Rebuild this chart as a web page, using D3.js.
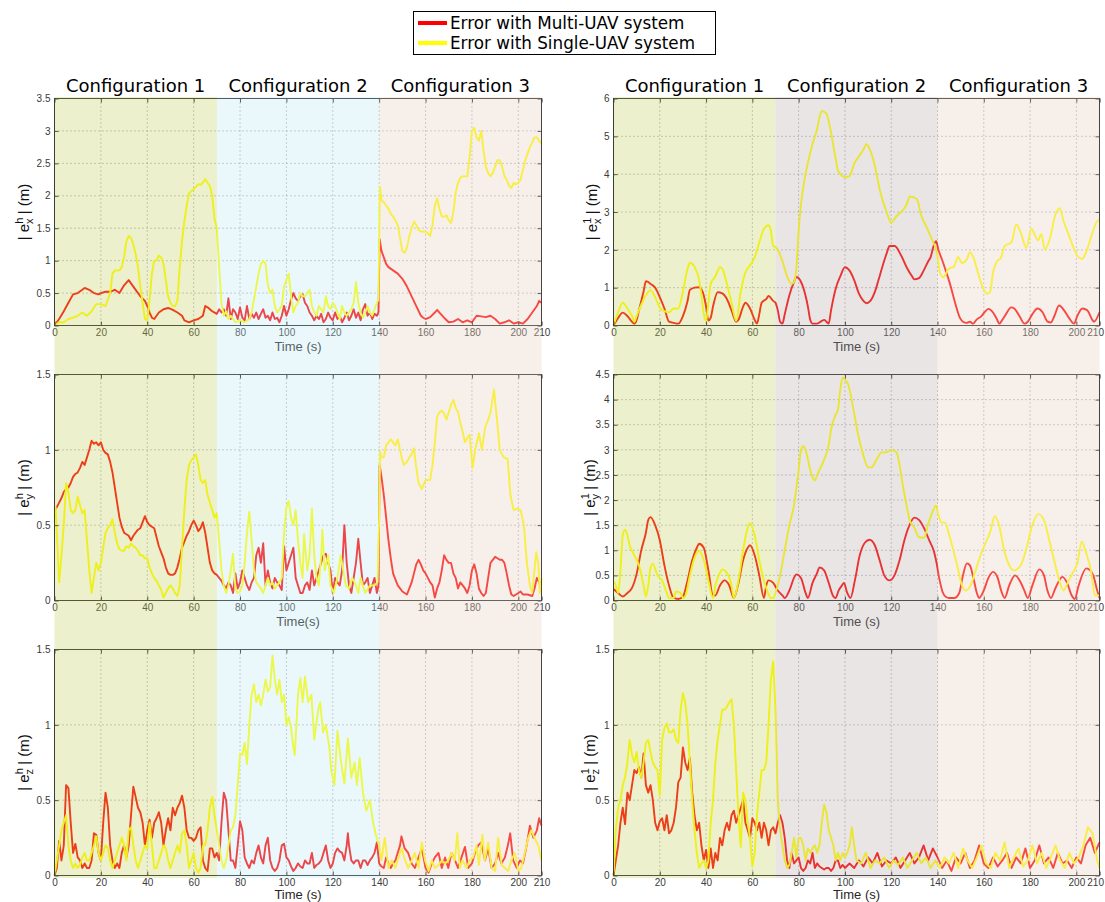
<!DOCTYPE html>
<html><head><meta charset="utf-8">
<script src="https://cdn.jsdelivr.net/npm/d3@7"></script>
<style>body{margin:0;background:#fff} svg{display:block}</style>
</head><body>
<svg id="c" width="1105" height="902"></svg>
<script>
// ---------- DATA ----------
const timeTicks=[0,20,40,60,80,100,120,140,160,180,200,210];
const configNames=["Configuration 1","Configuration 2","Configuration 3"];
const configBounds=[0,70,140,210];
const legendLabels=["Error with Multi-UAV system","Error with Single-UAV system"];

const hxMulti=[[0,0],[2,0.1],[4,0.22],[6,0.35],[8,0.48],[10,0.5],[12,0.55],[13,0.58],[15,0.55],[17,0.5],[19,0.48],[20,0.5],[22,0.52],[24,0.52],[26,0.55],[28,0.5],[30,0.62],[32,0.7],[33,0.65],[35,0.55],[37,0.45],[39,0.38],[40,0.3],[41,0.2],[42,0.12],[43,0.1],[45,0.2],[47,0.25],[49,0.27],[51,0.24],[53,0.2],[55,0.15],[56,0.08],[58,0.05],[60,0.08],[62,0.1],[64,0.15],[65,0.3],[66,0.28],[68,0.22],[70,0.18],[71,0.25],[72,0.2],[73,0.25],[74,0.15],[75,0.42],[76,0.1],[77,0.25],[78,0.2],[79,0.1],[80,0.28],[81,0.12],[82,0.08],[83,0.3],[84,0.1],[85,0.18],[86,0.12],[87,0.2],[88,0.1],[89,0.18],[90,0.25],[91,0.12],[92,0.15],[93,0.08],[94,0.2],[95,0.1],[96,0.12],[97,0.05],[98,0.15],[99,0.3],[100,0.15],[101,0.25],[102,0.4],[103,0.5],[104,0.42],[105,0.38],[106,0.45],[107,0.48],[108,0.35],[109,0.3],[110,0.2],[111,0.15],[112,0.08],[113,0.15],[114,0.1],[115,0.18],[116,0.05],[117,0.1],[118,0.2],[119,0.12],[120,0.08],[121,0.2],[122,0.1],[123,0.15],[124,0.05],[125,0.12],[126,0.2],[127,0.08],[128,0.15],[129,0.25],[130,0.12],[131,0.2],[132,0.08],[133,0.25],[134,0.33],[135,0.15],[136,0.2],[137,0.1],[138,0.18],[139,0.15],[139.7,0.2],[140.2,1.33],[141,1.15],[142,1.05],[143,0.95],[144,0.9],[146,0.85],[148,0.8],[150,0.72],[152,0.6],[154,0.45],[156,0.3],[158,0.15],[159,0.12],[160,0.1],[162,0.13],[164,0.2],[165,0.24],[166,0.2],[168,0.12],[170,0.05],[172,0.06],[174,0.1],[176,0.05],[178,0.08],[180,0.05],[182,0.15],[184,0.14],[186,0.13],[188,0.15],[190,0.1],[192,0.03],[194,0.05],[196,0.08],[198,0.03],[200,0.05],[202,0.03],[204,0.1],[206,0.2],[208,0.3],[209,0.38],[210,0.35]];
const hxSingle=[[0,0],[2,0.05],[4,0.05],[6,0.1],[8,0.12],[10,0.15],[12,0.2],[14,0.15],[16,0.22],[18,0.33],[20,0.33],[22,0.3],[24,0.5],[25,0.8],[26,0.85],[28,0.85],[29,0.9],[30,1.05],[31,1.3],[32,1.38],[33,1.35],[34,1.25],[35,1.1],[36,0.9],[37,0.6],[38,0.35],[39,0.1],[40,0.08],[41,0.4],[42,0.8],[43,1.0],[44,1.0],[45,1.08],[46,1.05],[47,0.95],[48,0.7],[49,0.45],[50,0.35],[51,0.3],[52,0.3],[53,0.38],[54,0.9],[55,1.3],[56,1.6],[57,1.85],[58,2.04],[60,2.1],[62,2.18],[63,2.17],[64,2.2],[65,2.26],[66,2.2],[67,2.15],[68,2.0],[69,1.65],[70,1.5],[71,0.9],[72,0.35],[73,0.15],[74,0.22],[75,0.1],[76,0.15],[77,0.1],[78,0.05],[80,0.08],[82,0.05],[84,0.1],[85,0.2],[86,0.4],[87,0.6],[88,0.8],[89,0.95],[90,1.0],[91,0.95],[92,0.62],[93,0.5],[94,0.55],[95,0.3],[96,0.2],[97,0.25],[98,0.3],[99,0.6],[100,0.7],[101,0.8],[102,0.45],[103,0.2],[104,0.3],[105,0.35],[106,0.5],[107,0.45],[108,0.45],[109,0.5],[110,0.55],[111,0.3],[112,0.2],[113,0.15],[114,0.3],[115,0.25],[116,0.2],[117,0.45],[118,0.3],[119,0.25],[120,0.35],[121,0.3],[122,0.2],[123,0.1],[124,0.3],[125,0.2],[126,0.15],[127,0.2],[128,0.25],[129,0.35],[130,0.67],[131,0.35],[132,0.2],[133,0.12],[134,0.2],[135,0.3],[136,0.2],[137,0.15],[138,0.25],[139,0.35],[139.7,0.4],[140.3,2.14],[141,1.93],[142,1.9],[143,1.85],[144,1.8],[145,1.72],[146,1.68],[147,1.62],[148,1.55],[149,1.35],[150,1.15],[151,1.12],[152,1.2],[153,1.38],[154,1.5],[155,1.6],[156,1.55],[157,1.47],[158,1.45],[160,1.45],[161,1.42],[162,1.38],[163,1.55],[164,1.85],[165,1.96],[166,1.8],[167,1.68],[168,1.68],[169,1.7],[170,1.62],[171,1.58],[172,1.75],[173,2.05],[174,2.2],[175,2.28],[176,2.3],[178,2.3],[179,2.6],[180,3.0],[181,3.05],[182,2.9],[183,2.85],[184,3.0],[185,2.7],[186,2.45],[187,2.35],[188,2.3],[189,2.35],[190,2.45],[191,2.55],[192,2.55],[193,2.45],[194,2.3],[195,2.25],[196,2.15],[197,2.12],[198,2.2],[199,2.18],[200,2.2],[201,2.25],[202,2.4],[203,2.55],[204,2.65],[205,2.75],[206,2.82],[207,2.9],[208,2.9],[209,2.85],[210,2.8]];

const hyMulti=[[0,0.6],[1,0.62],[2,0.65],[3,0.68],[4,0.72],[5,0.74],[6,0.75],[7,0.78],[8,0.82],[9,0.84],[10,0.85],[11,0.88],[12,0.92],[13,0.9],[14,0.95],[15,1.0],[16,1.06],[17,1.04],[18,1.05],[19,1.03],[20,1.05],[21,1.0],[22,0.98],[23,0.97],[24,0.92],[25,0.85],[26,0.75],[27,0.65],[28,0.55],[29,0.49],[30,0.45],[31,0.44],[32,0.43],[33,0.4],[34,0.43],[35,0.45],[36,0.47],[37,0.48],[38,0.52],[39,0.56],[40,0.52],[41,0.5],[42,0.49],[43,0.48],[44,0.42],[45,0.36],[46,0.32],[47,0.28],[48,0.22],[49,0.18],[50,0.17],[51,0.17],[52,0.18],[53,0.22],[54,0.28],[55,0.35],[56,0.39],[57,0.43],[58,0.46],[59,0.5],[60,0.53],[61,0.5],[62,0.46],[63,0.48],[64,0.52],[65,0.45],[66,0.35],[67,0.25],[68,0.2],[69,0.18],[70,0.17],[71,0.15],[72,0.13],[73,0.1],[74,0.08],[75,0.12],[76,0.1],[77,0.05],[78,0.18],[79,0.08],[80,0.12],[81,0.2],[82,0.15],[83,0.1],[84,0.07],[85,0.12],[86,0.15],[87,0.3],[88,0.35],[89,0.25],[90,0.38],[91,0.1],[92,0.2],[93,0.12],[94,0.08],[95,0.15],[96,0.12],[97,0.1],[98,0.07],[99,0.36],[100,0.2],[101,0.25],[102,0.3],[103,0.35],[104,0.15],[105,0.1],[106,0.05],[107,0.05],[108,0.1],[109,0.12],[110,0.07],[111,0.2],[112,0.1],[113,0.15],[114,0.2],[115,0.25],[116,0.3],[117,0.31],[118,0.25],[119,0.2],[120,0.05],[121,0.15],[122,0.12],[123,0.1],[124,0.2],[125,0.5],[126,0.25],[127,0.1],[128,0.05],[129,0.15],[130,0.25],[131,0.41],[132,0.25],[133,0.1],[134,0.12],[135,0.15],[136,0.05],[137,0.1],[138,0.15],[139,0.05],[139.7,0.1],[140.2,0.9],[141,0.82],[142,0.7],[143,0.55],[144,0.4],[145,0.28],[146,0.18],[147,0.14],[148,0.1],[149,0.08],[150,0.06],[151,0.05],[152,0.04],[153,0.08],[154,0.12],[155,0.18],[156,0.24],[157,0.27],[158,0.24],[159,0.2],[160,0.18],[161,0.15],[162,0.12],[163,0.1],[164,0.02],[165,0.08],[166,0.12],[167,0.2],[168,0.3],[169,0.27],[170,0.25],[171,0.25],[172,0.18],[173,0.15],[174,0.08],[175,0.12],[176,0.1],[177,0.08],[178,0.05],[179,0.1],[180,0.2],[181,0.24],[182,0.18],[183,0.08],[184,0.05],[185,0.03],[186,0.05],[187,0.15],[188,0.25],[189,0.27],[190,0.29],[191,0.28],[192,0.27],[193,0.27],[194,0.25],[195,0.18],[196,0.1],[197,0.04],[198,0.03],[200,0.05],[201,0.06],[202,0.04],[204,0.04],[206,0.03],[207,0.08],[208,0.15],[209,0.12],[210,0.1]];
const hySingle=[[0,0.55],[0.5,0.62],[1,0.45],[2,0.12],[3,0.3],[4,0.5],[5,0.78],[6,0.72],[7,0.6],[8,0.58],[9,0.6],[10,0.69],[11,0.63],[12,0.58],[13,0.6],[14,0.4],[15,0.2],[16,0.05],[17,0.15],[18,0.25],[19,0.2],[20,0.25],[21,0.35],[22,0.45],[23,0.48],[24,0.5],[25,0.54],[26,0.45],[27,0.38],[28,0.34],[29,0.33],[30,0.33],[31,0.36],[32,0.35],[33,0.38],[34,0.36],[35,0.35],[36,0.33],[37,0.3],[38,0.3],[39,0.28],[40,0.28],[41,0.22],[42,0.18],[43,0.15],[44,0.13],[45,0.1],[46,0.07],[47,0.02],[48,0.05],[49,0.08],[50,0.1],[51,0.08],[52,0.05],[53,0.03],[54,0.1],[55,0.35],[56,0.6],[57,0.8],[58,0.9],[59,0.93],[60,0.95],[61,0.97],[62,0.9],[63,0.8],[64,0.78],[65,0.8],[66,0.7],[67,0.65],[68,0.6],[69,0.55],[70,0.58],[71,0.4],[72,0.2],[73,0.1],[74,0.05],[75,0.1],[76,0.2],[77,0.31],[78,0.08],[79,0.05],[80,0.06],[81,0.1],[82,0.25],[83,0.45],[84,0.59],[85,0.4],[86,0.2],[87,0.12],[88,0.1],[89,0.08],[90,0.05],[91,0.1],[92,0.15],[93,0.1],[94,0.12],[95,0.08],[96,0.1],[97,0.12],[98,0.15],[99,0.45],[100,0.62],[101,0.66],[102,0.55],[103,0.5],[104,0.6],[105,0.4],[106,0.25],[107,0.15],[107.6,0.44],[109,0.2],[110,0.3],[111,0.61],[112,0.3],[113,0.15],[114,0.1],[115,0.3],[115.5,0.47],[116.5,0.2],[118,0.3],[119,0.1],[120.4,0.05],[122,0.15],[123.4,0.3],[124.5,0.2],[125.6,0.1],[127,0.08],[128.4,0.15],[130,0.1],[131,0.05],[132,0.15],[134,0.05],[136,0.1],[138,0.1],[139.3,0.12],[140,0.55],[140.4,0.99],[141,0.95],[142,0.95],[143,1.03],[144,1.05],[145,1.07],[146,1.05],[147,1.03],[148,1.07],[149,1.0],[150,0.93],[150.7,0.9],[152,0.92],[153,0.95],[154,0.97],[155,1.01],[156,0.88],[157,0.78],[158.4,0.74],[160,0.8],[161,0.8],[162,0.8],[163,0.9],[164,1.05],[165,1.22],[166,1.25],[167,1.26],[168,1.24],[169,1.2],[170,1.25],[171,1.3],[172,1.33],[173,1.28],[174,1.25],[175,1.18],[176,1.12],[177,1.05],[178,1.08],[179,1.1],[180.3,0.88],[181.4,1.0],[183,1.11],[184.3,1.0],[185.7,1.15],[187,1.2],[188,1.25],[189.5,1.4],[190.8,1.2],[192,1.0],[193.7,0.95],[195.4,0.94],[196.6,0.7],[198,0.6],[199.5,0.61],[201,0.6],[202.4,0.5],[203.7,0.25],[205,0.1],[206,0.05],[207.7,0.32],[208.6,0.25],[209.3,0.05],[210,0.15]];

const hzMulti=[[0,0],[1,0.05],[2,0.23],[3,0.1],[4,0.2],[5,0.6],[6,0.58],[7,0.35],[8,0.15],[9,0.21],[10,0.12],[11,0.1],[12,0.05],[13,0.08],[14,0.05],[15,0.05],[16,0.1],[17,0.28],[18,0.27],[19,0.15],[20,0.1],[21,0.35],[22,0.55],[23,0.45],[24,0.2],[25,0.1],[26,0.05],[27,0.08],[28,0.05],[29,0.15],[30,0.2],[31,0.12],[32,0.2],[33,0.4],[34,0.59],[35,0.52],[36,0.45],[37,0.42],[38,0.35],[39,0.2],[40,0.3],[41,0.37],[42,0.25],[43,0.35],[44,0.38],[45,0.42],[46,0.35],[47,0.2],[48,0.3],[49,0.38],[50,0.3],[51,0.45],[52,0.4],[53,0.45],[54,0.48],[55,0.53],[56,0.45],[57,0.3],[58,0.25],[59,0.25],[60,0.23],[61,0.25],[62,0.3],[63,0.32],[64,0.1],[65,0.05],[66,0.03],[67,0.18],[68,0.18],[69,0.12],[70,0.15],[71,0.1],[72,0.35],[73,0.55],[74,0.5],[75,0.3],[76,0.1],[77,0.1],[78,0.05],[79,0.2],[80,0.36],[81,0.3],[82,0.12],[83,0.08],[84,0.05],[85,0.1],[86,0.08],[87,0.15],[88,0.2],[89,0.12],[90,0.08],[91,0.2],[92,0.25],[93,0.1],[94,0.05],[95,0.03],[96,0.05],[97,0.1],[98,0.2],[99,0.21],[100,0.12],[101,0.1],[102,0.06],[103,0.03],[104,0.05],[105,0.08],[106,0.06],[107,0.05],[108,0.1],[109,0.08],[110,0.08],[111,0.15],[112,0.05],[113,0.07],[114,0.08],[115,0.1],[116,0.15],[117,0.2],[118,0.1],[119,0.05],[120,0.08],[121,0.15],[122,0.18],[123,0.16],[124,0.15],[125,0.1],[126,0.2],[126.5,0.28],[127,0.2],[128,0.1],[129,0.08],[130,0.1],[131,0.1],[132,0.05],[133,0.1],[134,0.1],[135,0.07],[136,0.1],[137,0.12],[138,0.15],[139,0.22],[140,0.08],[141,0.06],[142,0.05],[143,0.12],[144,0.08],[145,0.05],[146,0.08],[147,0.1],[148,0.15],[149,0.2],[149.6,0.26],[151,0.18],[152.5,0.15],[154,0.08],[155.4,0.05],[157,0.12],[158.4,0.18],[160,0.05],[161.3,0.02],[162.7,0.08],[164,0.12],[165.6,0.15],[167,0.05],[168.4,0.12],[169.8,0.05],[171.2,0.15],[172.7,0.1],[174,0.05],[175.5,0.12],[177,0.19],[178.4,0.05],[180,0.08],[181.3,0.15],[182.7,0.2],[184,0.22],[185.6,0.1],[187,0.18],[188.5,0.05],[190,0.08],[191.3,0.15],[192.7,0.08],[194.2,0.12],[195.5,0.2],[196.5,0.28],[197.8,0.1],[199.3,0.05],[200.7,0.1],[202,0.08],[203.6,0.2],[205,0.33],[206.5,0.25],[208,0.3],[209,0.38],[210,0.33]];
const hzSingle=[[0,0],[1,0.1],[2,0.2],[3,0.3],[4,0.35],[5,0.4],[6,0.2],[7,0.1],[8,0.05],[9,0.08],[10,0.05],[11,0.07],[12,0.12],[13,0.15],[14,0.1],[15,0.1],[16,0.15],[17,0.2],[18,0.26],[19,0.15],[20,0.1],[21,0.15],[22,0.2],[23,0.18],[24,0.1],[25,0.05],[26,0.1],[27,0.15],[28,0.2],[29,0.25],[30,0.2],[31,0.1],[32,0.3],[33,0.32],[34,0.2],[35,0.1],[36,0.05],[37,0.1],[38,0.15],[39,0.2],[40,0.18],[41,0.35],[42,0.2],[43,0.05],[44,0.05],[45,0.1],[46,0.15],[47,0.2],[48,0.18],[49,0.1],[50,0.05],[51,0.1],[52,0.15],[53,0.2],[54,0.15],[55,0.28],[56,0.3],[57,0.2],[58,0.05],[59,0.1],[60,0.15],[61,0.05],[62,0.02],[63,0.05],[64,0.2],[65,0.2],[66,0.3],[67,0.45],[68,0.52],[69,0.4],[70,0.3],[71,0.2],[72,0.1],[73,0.05],[74,0.1],[75,0.2],[76,0.3],[77,0.32],[78,0.4],[79,0.6],[80,0.81],[81,0.8],[82,0.88],[83,0.74],[84,1.0],[85,1.2],[86,1.27],[87,1.15],[88,1.2],[89,1.13],[90,1.2],[91,1.3],[92,1.22],[93,1.25],[94,1.46],[95,1.3],[96,1.2],[97,1.3],[98,1.15],[99,1.2],[100,1.0],[101,1.05],[102,0.98],[103,0.85],[103.6,0.8],[105,1.2],[106,1.31],[107,1.15],[108,1.32],[109.4,1.15],[110.8,1.2],[112,0.9],[113.7,1.1],[114.6,1.15],[115.8,0.95],[117,1.0],[118.6,0.84],[119.3,0.7],[120.7,0.6],[122,0.96],[123.6,0.75],[125,0.61],[126.5,0.91],[128,0.65],[129.4,0.75],[130.4,0.6],[131.6,0.78],[133,0.55],[134.5,0.43],[136,0.5],[137.4,0.35],[138.9,0.25],[140,0.2],[141,0.1],[142.4,0.25],[144,0.05],[145.4,0.1],[147,0.05],[148.3,0.12],[149.7,0.18],[151.2,0.1],[152.5,0.05],[154,0.1],[155.4,0.15],[157,0.05],[158.4,0.22],[159.8,0.1],[161.3,0.03],[162.7,0.1],[164,0.05],[165.6,0.07],[167,0.1],[168.4,0.08],[169.8,0.1],[171.2,0.15],[172.6,0.1],[173.7,0.28],[174.8,0.05],[176,0.1],[177.7,0.05],[179,0.1],[180.5,0.12],[182,0.2],[183,0.07],[184.5,0.27],[185.5,0.1],[187,0.22],[188.5,0.05],[190,0.03],[191.3,0.25],[192.8,0.07],[194.2,0.05],[195.6,0.03],[197,0.1],[198.5,0.15],[200,0.03],[201.3,0.05],[202.8,0.15],[204.3,0.25],[205.6,0.3],[207,0.25],[208.6,0.2],[210,0.1]];

const oxMulti=[[0,0],[2,0.2],[4,0.34],[6,0.25],[8,0.1],[9,0.05],[10,0.15],[11,0.4],[12,0.65],[13,0.9],[14,1.17],[15,1.15],[16,1.1],[18,1.0],[20,0.75],[22,0.45],[24,0.1],[26,0.07],[28,0.05],[30,0.25],[32,0.65],[33,0.94],[35,1.0],[37,1.01],[38,0.95],[39,0.8],[40,0.5],[41,0.13],[42,0.2],[43,0.5],[45,0.88],[47,0.85],[49,0.7],[51,0.4],[53,0.1],[54,0.15],[56,0.5],[57,0.6],[59,0.45],[61,0.15],[62,0.05],[63,0.3],[64,0.6],[66,0.7],[67,0.78],[69,0.65],[70,0.6],[71,0.4],[72,0.1],[73,0.05],[74,0.3],[76,0.8],[78,1.15],[79,1.28],[80,1.25],[82,1.0],[84,0.5],[85,0.15],[86,0.05],[88,0.05],[90,0.12],[91,0.15],[92,0.1],[93,0.05],[94,0.4],[96,0.97],[98,1.3],[100,1.54],[102,1.45],[104,1.2],[106,0.85],[108,0.65],[109.3,0.59],[111,0.65],[113,0.9],[114.5,1.2],[116.4,1.6],[118,1.9],[119.3,2.1],[121.5,2.1],[124.3,1.85],[127,1.5],[129,1.3],[130,1.22],[132,1.25],[134,1.45],[136,1.7],[137,1.8],[138.3,2.1],[139.4,2.23],[140.4,2.0],[141.9,1.75],[143.3,1.5],[145.4,1.1],[147.6,0.6],[149.7,0.2],[151,0.1],[152.5,0.07],[154,0.1],[155.4,0.05],[156.8,0.15],[159,0.25],[160.3,0.35],[162,0.44],[163.9,0.35],[165.4,0.2],[166.8,0.05],[168,0.15],[169.6,0.3],[171.8,0.48],[173.2,0.45],[175.4,0.25],[177.6,0.05],[179,0.1],[181,0.3],[183.2,0.45],[185.4,0.35],[187.6,0.1],[189,0.08],[190.5,0.25],[192.5,0.53],[194.7,0.4],[196.8,0.2],[199,0.05],[200.4,0.25],[202.6,0.45],[204.7,0.4],[206.9,0.15],[207.6,0.1],[210,0.35]];
const oxSingle=[[0,0],[2,0.35],[4,0.6],[6,0.45],[8,0.25],[9,0.1],[10,0.25],[12,0.55],[14,0.8],[16,0.93],[18,0.75],[20,0.47],[22,0.38],[24,0.35],[26,0.45],[28,0.45],[30,0.9],[32,1.5],[33,1.66],[35,1.55],[37,1.2],[38,0.8],[39,0.3],[40,0.12],[41,0.6],[42,1.1],[44,1.3],[46,1.54],[47,1.5],[49,1.1],[51,0.6],[53,0.12],[55,0.9],[57,1.4],[59,1.59],[61,1.8],[63,2.2],[65,2.55],[67,2.65],[68,2.5],[69,2.1],[70,2.07],[71,2.0],[73,1.7],[75,1.3],[77,1.1],[78,1.15],[79,1.5],[80,2.5],[81,3.2],[82,3.66],[84,4.3],[86,4.8],[88,5.2],[89,5.5],[90,5.67],[92,5.6],[93,5.4],[94,5.1],[95,4.75],[96,4.4],[97,4.1],[98,4.0],[100,3.92],[102,3.95],[104,4.28],[106.4,4.5],[108,4.65],[109.3,4.79],[110.8,4.65],[113,4.2],[115,3.6],[118,3.0],[120,2.72],[122.4,2.9],[124.3,3.0],[126.7,3.2],[128,3.41],[131,3.35],[133,2.9],[135.3,2.6],[137.4,2.3],[139.4,2.0],[140,1.85],[141,1.4],[142.6,1.28],[144.8,1.5],[147,1.55],[149,1.81],[150.5,1.65],[152.7,1.75],[154,1.94],[155.5,1.8],[157,1.5],[159,1.1],[161.4,0.84],[162.8,0.9],[164,1.4],[165.6,1.68],[167.5,1.8],[169,2.1],[172,2.2],[174,2.67],[176,2.45],[178.4,2.05],[180.6,2.56],[182,2.4],[183.4,2.25],[184.9,2.42],[186.3,2.01],[188.6,2.3],[190.8,2.9],[192.8,3.1],[194.5,2.75],[196.7,2.4],[198.8,2.05],[201,1.8],[202.5,1.76],[204.6,2.0],[206.7,2.4],[208.9,2.75],[210,2.8]];

const oyMulti=[[0,0.23],[2,0.15],[4,0.08],[6,0.15],[8,0.25],[10,0.53],[12,1.0],[14,1.35],[15,1.6],[16,1.66],[18,1.5],[20,1.2],[22,0.7],[24,0.3],[26,0.05],[28,0.03],[30,0.08],[32,0.4],[34,0.8],[36,1.05],[37,1.13],[39,1.05],[41,0.6],[43,0.1],[44,0.1],[46,0.3],[48,0.4],[50,0.3],[52,0.05],[54,0.35],[56,0.8],[58,1.05],[59,1.1],[61,0.9],[63,0.5],[65,0.05],[66,0.3],[67,0.4],[69,0.35],[71,0.2],[73,0.1],[74,0.05],[76,0.2],[78,0.45],[79,0.52],[81,0.45],[83,0.15],[84,0.05],[86,0.35],[88,0.55],[89,0.66],[91,0.6],[93,0.35],[95,0.08],[96,0.05],[97.3,0.2],[98.7,0.3],[99.6,0.35],[101,0.15],[102.4,0.05],[104.3,0.4],[106.4,0.9],[108.6,1.15],[110.7,1.21],[112.9,1.1],[115,0.8],[117,0.5],[119.3,0.4],[121.4,0.5],[123.6,0.8],[125.7,1.2],[127.9,1.5],[130,1.65],[132.1,1.6],[134.3,1.43],[136.4,1.2],[138.5,0.97],[139.5,0.77],[140.8,0.43],[142.2,0.17],[143.7,0.07],[145,0.05],[147.2,0.05],[149.4,0.15],[151,0.5],[152.7,0.74],[154,0.7],[155.5,0.45],[157,0.15],[158,0.05],[160,0.2],[162,0.45],[164,0.57],[166,0.45],[167.5,0.2],[169,0.05],[171,0.3],[173.5,0.5],[175.5,0.4],[177.5,0.2],[179,0.05],[181,0.3],[184,0.62],[186,0.5],[187.5,0.2],[189,0.05],[191,0.25],[194,0.47],[196,0.35],[198,0.1],[199.3,0.03],[201,0.3],[204.3,0.64],[206,0.6],[207.3,0.5],[209,0.2],[210,0.05]];
const oySingle=[[0,0.38],[1,0.3],[2,0.15],[3,0.6],[4,1.3],[5,1.41],[6,1.3],[7,1.1],[9,0.9],[11,0.7],[13,0.3],[14,0.08],[15,0.3],[16,0.65],[17,0.73],[19,0.5],[21,0.4],[23,0.15],[24,0.05],[26,0.05],[27,0.18],[29,0.15],[30,0.05],[31,0.08],[33,0.5],[35,0.85],[37,0.99],[39,0.8],[41,0.4],[43,0.05],[44,0.3],[46,0.55],[47,0.62],[49,0.55],[51,0.3],[52,0.05],[54,0.4],[56,1.0],[58,1.45],[59,1.54],[61,1.3],[63,0.8],[65,0.4],[66,0.25],[67,0.12],[68,0.05],[69,0.05],[70,0.15],[72,0.5],[74,1.0],[76,1.5],[78,1.9],[80,2.6],[81,3.0],[82,3.07],[83,3.0],[85,2.6],[86,2.45],[87,2.39],[88,2.5],[89,2.6],[91,2.8],[93,3.1],[94,3.4],[96,3.7],[97,3.8],[98,4.2],[99,4.44],[100,4.4],[101.4,4.3],[103.5,3.85],[105.7,3.3],[107.9,2.9],[110,2.65],[111.4,2.65],[113.6,2.8],[115.8,2.95],[118,2.95],[120,3.0],[122.3,2.95],[123.6,2.7],[125,2.3],[126.6,1.9],[128,1.6],[130,1.45],[132,1.26],[134.3,1.25],[135.8,1.5],[137.3,1.7],[139.4,1.89],[140.4,1.7],[141.9,1.55],[143.3,1.55],[144.8,1.35],[146.3,1.1],[148.5,0.7],[150.6,0.3],[152.2,0.2],[154.3,0.3],[156.5,0.6],[158.6,0.9],[160.8,1.15],[163,1.4],[164.7,1.68],[166.6,1.5],[168.8,1.0],[171,0.7],[173.2,0.6],[176,0.7],[178.2,1.0],[181,1.5],[183.5,1.72],[186,1.6],[188.3,1.2],[190.4,0.8],[192.6,0.4],[194.5,0.2],[196.2,0.35],[198.4,0.55],[200.5,0.75],[202.3,1.17],[204.2,0.95],[206.3,0.6],[208,0.1],[210,0.1]];

const ozMulti=[[0,0],[1,0.1],[2,0.2],[3,0.35],[4,0.45],[5,0.34],[6,0.55],[7,0.5],[8,0.6],[9,0.7],[10,0.68],[11,0.72],[12,0.65],[13,0.81],[14,0.6],[15,0.55],[16,0.6],[17,0.5],[18,0.35],[19,0.3],[20,0.36],[21,0.38],[22,0.3],[23,0.4],[24,0.28],[25,0.3],[26,0.35],[27,0.45],[28,0.62],[29,0.65],[30,0.85],[31,0.75],[32,0.7],[33,0.78],[34,0.55],[35,0.4],[36,0.3],[37,0.35],[38,0.2],[39,0.1],[40,0.17],[41,0.05],[42,0.18],[43,0.05],[44,0.15],[45,0.1],[46,0.25],[47,0.2],[48,0.3],[49,0.35],[50,0.3],[51,0.4],[52,0.43],[53,0.35],[54,0.4],[55,0.45],[56,0.5],[57,0.35],[58,0.3],[59,0.25],[60,0.38],[61,0.35],[62,0.3],[63,0.35],[64,0.25],[65,0.35],[66,0.3],[67,0.2],[68,0.3],[69,0.32],[70,0.28],[71,0.35],[72,0.4],[73,0.35],[74,0.25],[75,0.1],[76,0.05],[77,0.15],[78,0.08],[79,0.1],[80,0.12],[81,0.05],[82,0.03],[83,0.05],[84,0.1],[85,0.08],[86,0.15],[87,0.05],[88,0.08],[89,0.06],[90,0.05],[91,0.04],[92,0.05],[93,0.05],[94,0.03],[95,0.05],[96,0.1],[97,0.1],[98,0.05],[99,0.07],[100,0.05],[102,0.08],[104,0.05],[106,0.1],[108,0.06],[110,0.12],[112,0.08],[114,0.15],[116,0.06],[118,0.1],[120,0.08],[122,0.12],[124,0.05],[126,0.1],[128,0.15],[130,0.08],[132,0.12],[134,0.2],[136,0.1],[138,0.18],[140,0.12],[142,0.05],[144,0.1],[146,0.03],[148,0.12],[150,0.08],[152,0.15],[154,0.05],[156,0.1],[158,0.2],[160,0.08],[162,0.05],[164,0.12],[166,0.06],[168,0.1],[170,0.15],[172,0.05],[174,0.12],[176,0.08],[178,0.18],[180,0.05],[182,0.1],[184,0.2],[186,0.08],[188,0.12],[190,0.05],[192,0.15],[194,0.08],[196,0.1],[198,0.05],[200,0.12],[202,0.08],[204,0.2],[206,0.25],[208,0.15],[210,0.22]];
const ozSingle=[[0,0],[1,0.3],[2,0.45],[3,0.5],[4,0.6],[5,0.65],[6,0.75],[7,0.9],[8,0.8],[9,0.75],[10,0.82],[11,0.7],[12,0.65],[13,0.75],[14,0.88],[15,0.9],[16,0.82],[17,0.75],[18,0.72],[19,0.7],[20,0.53],[21,0.9],[22,0.98],[23,1.01],[24,0.95],[25,0.95],[26,0.97],[27,0.9],[28,0.88],[29,1.1],[30,1.21],[31,1.15],[32,1.0],[33,0.75],[34,0.5],[35,0.3],[36,0.15],[37,0.05],[38,0.08],[39,0.1],[40,0.05],[41,0.1],[42,0.35],[43,0.5],[44,0.75],[45,0.9],[46,1.0],[47,1.1],[48,1.1],[49,1.12],[50,1.15],[51,1.17],[52,1.0],[53,0.7],[54,0.4],[55,0.19],[56,0.55],[57,0.5],[58,0.35],[59,0.25],[60,0.06],[61,0.15],[62,0.4],[63,0.55],[64,0.7],[65,0.7],[66,0.75],[67,1.0],[68,1.3],[69,1.42],[70,1.1],[71,0.5],[72,0.3],[73,0.2],[74,0.1],[75,0.05],[76,0.07],[77,0.15],[78,0.25],[79,0.12],[80,0.25],[81,0.25],[82,0.2],[83,0.1],[84,0.18],[85,0.15],[86,0.18],[87,0.2],[88,0.15],[89,0.2],[90,0.35],[91,0.47],[92,0.42],[93,0.3],[94,0.25],[95,0.2],[96,0.1],[97,0.15],[98,0.1],[99,0.15],[100,0.12],[101,0.15],[102,0.2],[103,0.32],[104,0.2],[105,0.1],[107,0.08],[109,0.15],[111,0.05],[113,0.1],[115,0.08],[117,0.12],[119,0.05],[121,0.1],[123,0.07],[125,0.12],[127,0.05],[129,0.1],[131,0.15],[133,0.08],[135,0.12],[137,0.05],[139,0.1],[141,0.05],[143,0.12],[145,0.08],[147,0.15],[149,0.05],[151,0.18],[153,0.1],[155,0.05],[157,0.12],[159,0.2],[161,0.08],[163,0.05],[165,0.15],[167,0.1],[169,0.22],[171,0.05],[173,0.12],[175,0.18],[177,0.06],[179,0.1],[181,0.2],[183,0.08],[185,0.15],[187,0.05],[189,0.12],[191,0.2],[193,0.1],[195,0.05],[197,0.15],[199,0.08],[201,0.12],[203,0.2],[205,0.32],[207,0.28],[209,0.1],[210,0.05]];

// ---------- LAYOUT ----------
const svg=d3.select("#c");
const cols=[{x0:54.5,x1:541.5,ylabX:29},{x0:613.5,x1:1099.5,ylabX:597}];
const rows=[{y0:98.5,y1:325.5},{y0:374.5,y1:600.5},{y0:649.5,y1:875.5}];
const bandTop=97, bandBottom=878;
const overlayColors=[["rgb(195,205,85)","rgb(188,232,242)","rgb(232,209,195)"],["rgb(195,205,85)","rgb(182,168,168)","rgb(232,209,195)"]];
const overlayAlpha=[0.3,0.3,0.35];

const panels=[
 {col:0,row:0,ymax:3.5,yticks:[0,0.5,1,1.5,2,2.5,3,3.5],sup:"h",sub:"x",xlabel:"Time (s)",smooth:false,multi:hxMulti,single:hxSingle},
 {col:0,row:1,ymax:1.5,yticks:[0,0.5,1,1.5],sup:"h",sub:"y",xlabel:"Time(s)",smooth:false,multi:hyMulti,single:hySingle},
 {col:0,row:2,ymax:1.5,yticks:[0,0.5,1,1.5],sup:"h",sub:"z",xlabel:"Time (s)",smooth:false,multi:hzMulti,single:hzSingle},
 {col:1,row:0,ymax:6,yticks:[0,1,2,3,4,5,6],sup:"1",sub:"x",xlabel:"Time (s)",smooth:true,multi:oxMulti,single:oxSingle},
 {col:1,row:1,ymax:4.5,yticks:[0,0.5,1,1.5,2,2.5,3,3.5,4,4.5],sup:"1",sub:"y",xlabel:"Time (s)",smooth:true,multi:oyMulti,single:oySingle},
 {col:1,row:2,ymax:1.5,yticks:[0,0.5,1,1.5],sup:"1",sub:"z",xlabel:"Time (s)",smooth:false,multi:ozMulti,single:ozSingle}
];

const tickFont="'Liberation Sans', Arial, sans-serif";
const titleFont="'DejaVu Sans', Verdana, sans-serif";

const xScales=cols.map(c=>d3.scaleLinear().domain([0,210]).range([c.x0,c.x1]));

panels.forEach(p=>{
  const c=cols[p.col], r=rows[p.row];
  const x=xScales[p.col];
  const y=d3.scaleLinear().domain([0,p.ymax]).range([r.y1,r.y0]);
  const g=svg.append("g");
  // grid
  g.selectAll(".gx").data(timeTicks.filter(t=>t>0&&t<210)).enter().append("line")
    .attr("x1",d=>x(d)).attr("x2",d=>x(d)).attr("y1",r.y0).attr("y2",r.y1)
    .attr("stroke","#6a6a6a").attr("stroke-width",0.8).attr("stroke-dasharray","1,3");
  g.selectAll(".gy").data(p.yticks.filter(t=>t>0&&t<p.ymax)).enter().append("line")
    .attr("y1",d=>y(d)).attr("y2",d=>y(d)).attr("x1",c.x0).attr("x2",c.x1)
    .attr("stroke","#6a6a6a").attr("stroke-width",0.8).attr("stroke-dasharray","1,3");
  // lines
  const line=d3.line().x(d=>x(d[0])).y(d=>Math.max(r.y0,Math.min(r.y1,y(d[1])))).curve(p.smooth?d3.curveMonotoneX:d3.curveLinear);
  g.append("path").datum(p.multi).attr("d",line).attr("fill","none").attr("stroke","#ff0000").attr("stroke-width",1.9).attr("stroke-linejoin","round");
  g.append("path").datum(p.single).attr("d",line).attr("fill","none").attr("stroke","#ffff00").attr("stroke-width",1.9).attr("stroke-linejoin","round");
  // box
  g.append("rect").attr("x",c.x0).attr("y",r.y0).attr("width",c.x1-c.x0).attr("height",r.y1-r.y0)
    .attr("fill","none").attr("stroke","#262626").attr("stroke-width",1);
  // axes
  const ax=g.append("g").attr("transform",`translate(0,${r.y1})`)
    .call(d3.axisBottom(x).tickValues(timeTicks).tickSize(-4).tickSizeOuter(0).tickPadding(3).tickFormat(d=>String(d)));
  const ay=g.append("g").attr("transform",`translate(${c.x0},0)`)
    .call(d3.axisLeft(y).tickValues(p.yticks).tickSize(-4).tickSizeOuter(0).tickPadding(4).tickFormat(d=>String(d)));
  const at=g.append("g").attr("transform",`translate(0,${r.y0})`)
    .call(d3.axisTop(x).tickValues(timeTicks).tickSize(-4).tickSizeOuter(0).tickFormat(""));
  const ar=g.append("g").attr("transform",`translate(${c.x1},0)`)
    .call(d3.axisRight(y).tickValues(p.yticks).tickSize(-4).tickSizeOuter(0).tickFormat(""));
  [ax,ay,at,ar].forEach(a=>{
    a.select(".domain").remove();
    a.selectAll("line").attr("stroke","#262626");
    a.selectAll("text").attr("fill","#3a3a3a").style("font-family",tickFont).style("font-size","10px");
  });
  // keep the last "210" label inside the page on the right column
  if(p.col===1){
    ax.selectAll(".tick text").filter(d=>d===210).attr("text-anchor","end").attr("x",4);
  }
  // x label
  g.append("text").attr("x",(c.x0+c.x1)/2).attr("y",r.y1+(p.row===2?23:25)).attr("text-anchor","middle")
    .style("font-family",tickFont).style("font-size","13px").attr("fill","#262626").text(p.xlabel);
  // y label
  const yl=g.append("text").attr("transform",`translate(${c.ylabX - (p.col===1&&p.row>0?2:0)},${(r.y0+r.y1)/2}) rotate(-90)`)
    .attr("text-anchor","middle").style("font-family",tickFont).style("font-size","15px").attr("fill","#111");
  yl.append("tspan").text("| e");
  yl.append("tspan").attr("dy",-6).style("font-size","11px").text(p.sup);
  yl.append("tspan").attr("dx",-6.2).attr("dy",10).style("font-size","11px").text(p.sub);
  yl.append("tspan").attr("dy",-4).text(" | (m)");
});

// semi-transparent configuration bands on top
cols.forEach((c,ci)=>{
  const x=xScales[ci];
  for(let k=0;k<3;k++){
    svg.append("rect").attr("x",x(configBounds[k])).attr("y",bandTop)
      .attr("width",x(configBounds[k+1])-x(configBounds[k])).attr("height",bandBottom-bandTop)
      .attr("fill",overlayColors[ci][k]).attr("fill-opacity",overlayAlpha[k]);
    svg.append("text").attr("x",(x(configBounds[k])+x(configBounds[k+1]))/2).attr("y",92)
      .attr("text-anchor","middle").style("font-family",titleFont).style("font-size","18px")
      .attr("fill","#000").text(configNames[k]);
  }
});

// legend
const lg=svg.append("g");
lg.append("rect").attr("x",413.5).attr("y",11.5).attr("width",302).attr("height",43).attr("fill","#fff").attr("stroke","#000").attr("stroke-width",1);
const legendColors=["#ff0000","#ffff00"];
legendLabels.forEach((lab,i)=>{
  lg.append("line").attr("x1",418).attr("x2",447).attr("y1",23+20*i).attr("y2",23+20*i).attr("stroke",legendColors[i]).attr("stroke-width",4);
  lg.append("text").attr("x",450).attr("y",29+20*i).style("font-family",titleFont).style("font-size","16.8px").attr("fill","#000").text(lab);
});
</script>
</body></html>
